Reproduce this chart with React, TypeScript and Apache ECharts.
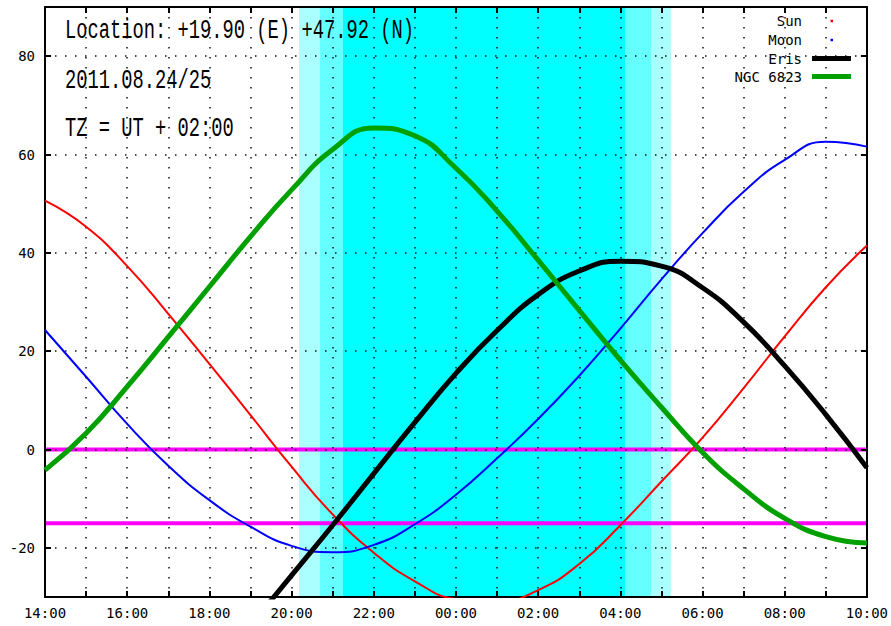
import React, { useEffect, useRef } from "react";
import * as echarts from "echarts";

// hours after 14:00 local time
const HOURS = [0, 1, 2, 3, 4, 5, 6, 7, 8, 9, 10, 11, 12, 13, 14, 15, 16, 17, 18, 19, 20];
const SUN = [50.6, 45.3, 37.3, 27.6, 17.4, 7.0, -3.5, -13.2, -21.0, -26.8, -30.4, -31.0, -28.6, -23.3, -15.4, -6.5, 2.4, 12.5, 23.0, 33.0, 41.5];
const MOON = [24.3, 14.8, 5.2, -3.3, -10.3, -15.7, -19.6, -20.9, -19.4, -15.2, -9.2, -1.8, 6.2, 15.0, 24.6, 34.6, 44.0, 52.4, 58.9, 62.6, 61.6];
const ERIS = [null, null, null, null, null, -35.8, -25.6, -15.4, -4.9, 5.5, 15.5, 24.2, 31.5, 36.3, 38.3, 37.3, 32.9, 25.9, 17.0, 7.1, -3.7];
const NGC6823 = [-4.2, 3.3, 12.8, 22.9, 33.1, 43.3, 52.8, 61.0, 65.4, 63.8, 57.2, 48.5, 38.5, 28.3, 18.2, 8.6, -0.6, -8.0, -14.0, -17.7, -19.0];
const LIMIT_LINES = [0, -15];
const BAND_EDGES = [6.18, 6.69, 7.25, 14.12, 14.75, 15.23];
const LEGEND_NAMES = ["Sun", "Moon", "Eris", "NGC 6823"];
const INFO_LINES = ["Location: +19.90 (E) +47.92 (N)", "2011.08.24/25", "TZ = UT + 02:00"];
const START_HOUR = 14;

const pairs = (xs: number[], vals: (number | null)[]) => xs.map((h, i) => [h, vals[i]]);

export default function App() {
  const ref = useRef<HTMLDivElement>(null);
  useEffect(() => {
    document.body.style.margin = "0";
    if (!ref.current) return;
    const chart = echarts.init(ref.current, undefined, { renderer: "svg" });
    const tickFont = { fontFamily: "DejaVu Sans Mono", fontSize: 14, color: "#000" };
    const dotted = { color: "#111", width: 1.5, type: [1.5, 8.5] as number[] };
    const axisLine = { show: true, onZero: false, lineStyle: { color: "#000", width: 2 } };
    const axisTick = { show: true, inside: true, length: 6, lineStyle: { color: "#000", width: 2 } };
    const bandColors = ["#aaffff", "#66ffff", "#00ffff", "#66ffff", "#aaffff"];
    const bands = bandColors.map((c, i) => [
      { xAxis: BAND_EDGES[i], itemStyle: { color: c } },
      { xAxis: BAND_EDGES[i + 1] },
    ]);
    const curveColors = ["#ff0000", "#0000ff", "#000000", "#00a000"];
    const curveWidths = [2, 2, 5, 5];
    const curveData = [
      pairs(HOURS, SUN),
      pairs(HOURS, MOON),
      pairs(HOURS, ERIS),
      pairs(HOURS, NGC6823),
    ];

    const legendGraphics: any[] = [];
    const legendY = [21, 40, 58.5, 76.5];
    LEGEND_NAMES.forEach((n, i) => {
      legendGraphics.push({
        type: "text",
        x: 802,
        y: legendY[i],
        z: 10,
        style: {
          text: n,
          fill: "#000",
          font: '14px "DejaVu Sans Mono"',
          align: "right",
          verticalAlign: "middle",
        },
      });
      if (i < 2) {
        legendGraphics.push({
          type: "rect",
          z: 10,
          shape: { x: 830.5, y: legendY[i] - 1.25, width: 2.5, height: 2.5 },
          style: { fill: curveColors[i] },
        });
      } else {
        legendGraphics.push({
          type: "line",
          z: 10,
          shape: { x1: 812, y1: legendY[i], x2: 851, y2: legendY[i] },
          style: { stroke: curveColors[i], lineWidth: 5 },
        });
      }
    });
    const infoY = [30, 80, 128.5];
    const infoGraphics = INFO_LINES.map((t, i) => ({
      type: "text",
      x: 65,
      y: infoY[i],
      z: 10,
      scaleX: 0.67,
      scaleY: 1,
      style: {
        text: t,
        fill: "#000",
        font: '28px "Liberation Mono"',
        align: "left",
        verticalAlign: "middle",
      },
    }));

    const option: any = {
      animation: false,
      backgroundColor: "#fff",
      grid: { left: 45, right: 23, top: 7, bottom: 29, show: false },
      xAxis: [
        {
          type: "value",
          min: 0,
          max: 20,
          interval: 1,
          position: "bottom",
          z: 2.5,
          axisLine,
          axisTick,
          axisLabel: {
            ...tickFont,
            margin: 9,
            showMinLabel: true,
            showMaxLabel: true,
            formatter: (v: number) =>
              v % 2 === 0 ? `${String((START_HOUR + v) % 24).padStart(2, "0")}:00` : "",
          },
          splitLine: { show: true, lineStyle: dotted },
        },
        {
          type: "value",
          min: 0,
          max: 20,
          interval: 1,
          position: "top",
          z: 2.5,
          axisLine,
          axisTick,
          axisLabel: { show: false },
          splitLine: { show: false },
        },
      ],
      yAxis: [
        {
          type: "value",
          min: -30,
          max: 90,
          splitNumber: 6,
          position: "left",
          z: 2.5,
          axisLine,
          axisTick,
          axisLabel: {
            ...tickFont,
            margin: 10,
            formatter: (v: number) => (v % 20 === 0 ? String(v) : ""),
          },
          splitLine: { show: true, lineStyle: dotted },
        },
        {
          type: "value",
          min: -30,
          max: 90,
          splitNumber: 6,
          position: "right",
          z: 2.5,
          axisLine,
          axisTick,
          axisLabel: { show: false },
          splitLine: { show: false },
        },
      ],
      series: [
        ...LIMIT_LINES.map((v, i) => ({
          type: "line",
          name: "limit" + i,
          data: [
            [HOURS[0], v],
            [HOURS[HOURS.length - 1], v],
          ],
          symbol: "none",
          silent: true,
          z: 2,
          lineStyle: { color: "#ff00ff", width: 4 },
          markArea: i === 0 ? { silent: true, z: 1, data: bands } : undefined,
        })),
        ...LEGEND_NAMES.map((n, i) => ({
          type: "line",
          name: n,
          data: curveData[i],
          symbol: "none",
          smooth: 0.5,
          clip: true,
          z: 3,
          silent: true,
          lineStyle: { color: curveColors[i], width: curveWidths[i] },
        })),
      ],
      graphic: [...infoGraphics, ...legendGraphics],
    };
    chart.setOption(option);
    return () => chart.dispose();
  }, []);
  return <div ref={ref} style={{ width: 891, height: 626 }} />;
}
